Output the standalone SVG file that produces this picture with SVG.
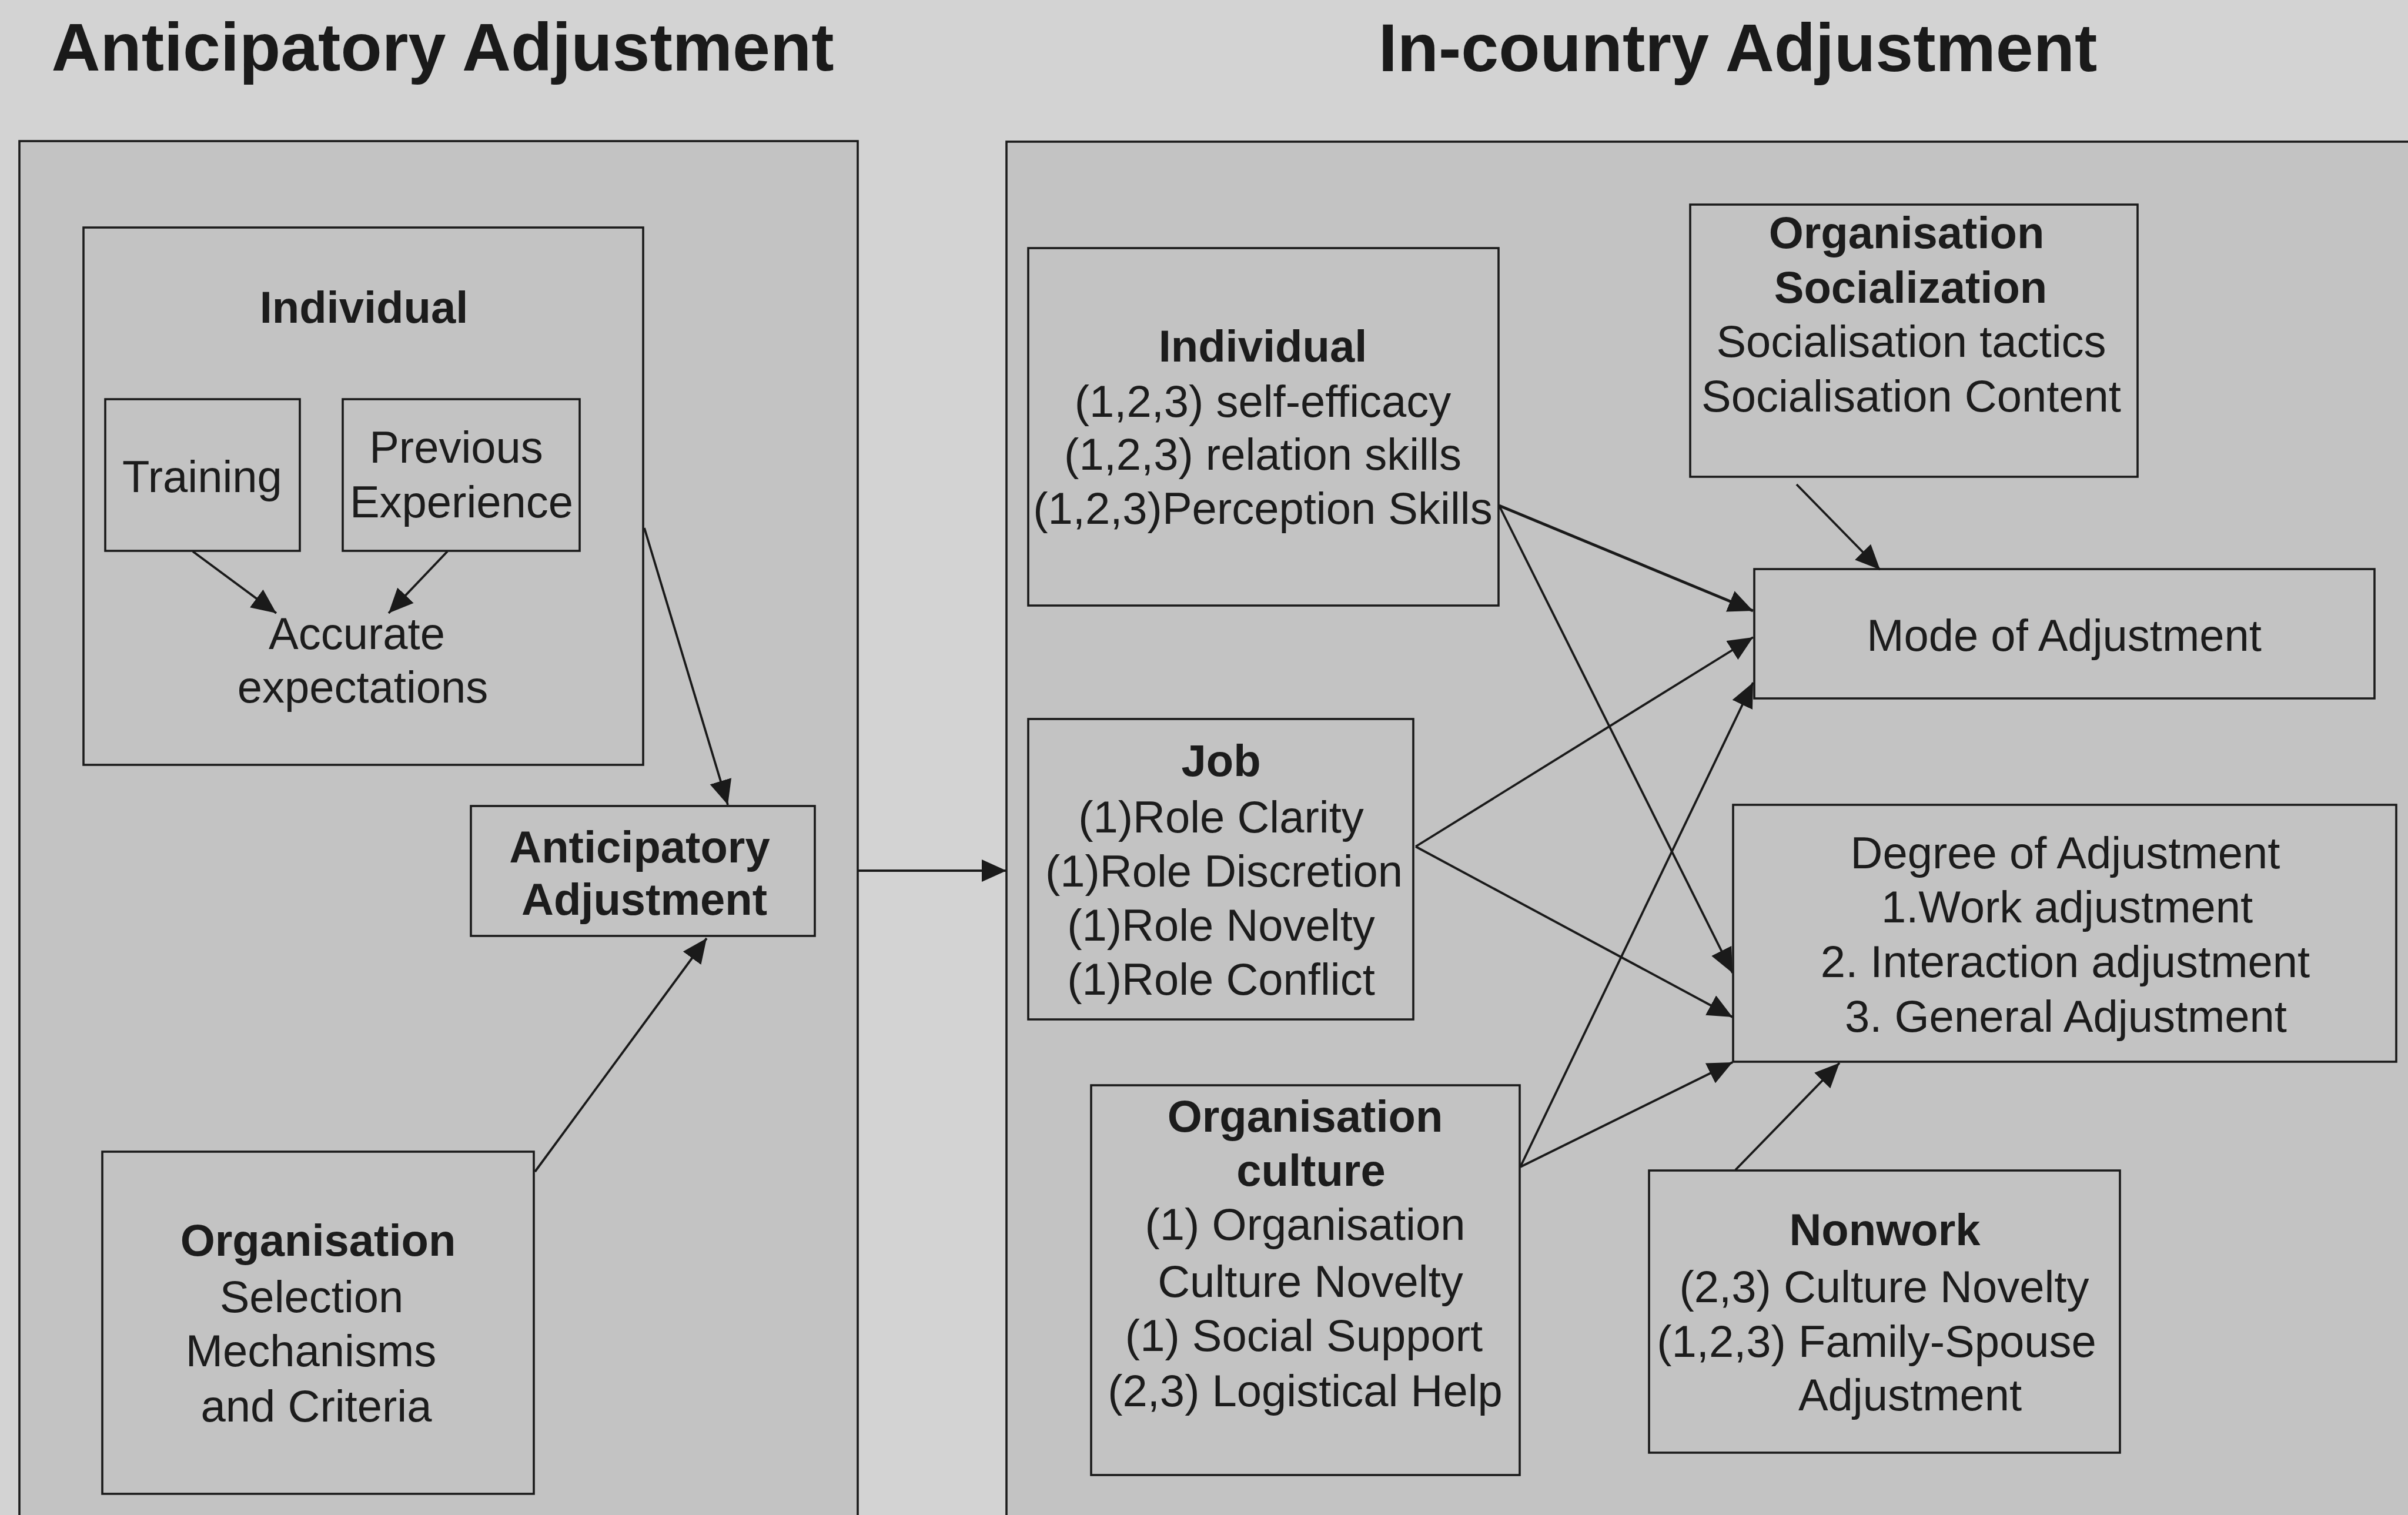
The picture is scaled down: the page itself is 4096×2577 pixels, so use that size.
<svg xmlns="http://www.w3.org/2000/svg" width="4096" height="2577" viewBox="0 0 4096 2577">
  <style>
    .panel { fill: #c3c3c3; stroke: #1a1a1a; stroke-width: 3.6; }
    .box { fill: #c3c3c3; stroke: #1a1a1a; stroke-width: 3.6; }
    .title { font-family: "Liberation Sans", Arial, sans-serif; font-size: 115px; font-weight: bold; fill: #1a1a1a; text-anchor: middle; }
    .t { font-family: "Liberation Sans", Arial, sans-serif; font-size: 76px; fill: #1c1c1c; text-anchor: middle; }
    .b { font-weight: bold; }
    .conn line { stroke: #1a1a1a; stroke-width: 3.8; fill: none; marker-end: url(#head); }
  </style>
  <defs>
    <marker id="head" markerUnits="userSpaceOnUse" markerWidth="44" markerHeight="40" refX="42" refY="19" orient="auto">
      <path d="M0,0 L42,19 L0,38 z" fill="#1a1a1a"/>
    </marker>
  </defs>

  <!-- page background -->
  <rect x="0" y="0" width="4096" height="2577" fill="#d3d3d3"/>

  <!-- section headings -->
  <text class="title" x="753" y="120">Anticipatory Adjustment</text>
  <text class="title" x="2956" y="121">In-country Adjustment</text>

  <!-- stage panels -->
  <g id="panel-anticipatory">
    <rect class="panel" x="33" y="240" width="1426" height="2400"/>
  </g>
  <g id="panel-incountry">
    <rect class="panel" x="1712" y="241" width="2420" height="2400"/>
  </g>

  <!-- anticipatory stage -->
  <g id="ant-individual">
    <rect class="box" x="142" y="387" width="952" height="914"/>
    <text class="t b" x="619" y="549">Individual</text>
  </g>
  <g id="ant-training">
    <rect class="box" x="179" y="679" width="331" height="258"/>
    <text class="t" x="344" y="837">Training</text>
  </g>
  <g id="ant-experience">
    <rect class="box" x="583" y="679" width="403" height="258"/>
    <text class="t" x="776" y="787">Previous</text>
    <text class="t" x="785" y="880">Experience</text>
  </g>
  <g id="ant-expectations">
    <text class="t" x="607" y="1104">Accurate</text>
    <text class="t" x="617" y="1195">expectations</text>
  </g>
  <g id="ant-adjustment">
    <rect class="box" x="801" y="1371" width="585" height="221"/>
    <text class="t b" x="1088" y="1467">Anticipatory</text>
    <text class="t b" x="1096" y="1556">Adjustment</text>
  </g>
  <g id="ant-organisation">
    <rect class="box" x="174" y="1959" width="734" height="582"/>
    <text class="t b" x="541" y="2136">Organisation</text>
    <text class="t" x="530" y="2232">Selection</text>
    <text class="t" x="529" y="2324">Mechanisms</text>
    <text class="t" x="538" y="2418">and Criteria</text>
  </g>

  <!-- in-country stage -->
  <g id="ic-individual">
    <rect class="box" x="1749" y="422" width="800" height="608"/>
    <text class="t b" x="2148" y="615">Individual</text>
    <text class="t" x="2148" y="709">(1,2,3) self-efficacy</text>
    <text class="t" x="2148" y="799">(1,2,3) relation skills</text>
    <text class="t" x="2148" y="891">(1,2,3)Perception Skills</text>
  </g>
  <g id="ic-socialization">
    <rect class="box" x="2875" y="348" width="761" height="463"/>
    <text class="t b" x="3243" y="422">Organisation</text>
    <text class="t b" x="3250" y="515">Socialization</text>
    <text class="t" x="3251" y="607">Socialisation tactics</text>
    <text class="t" x="3251" y="700">Socialisation Content</text>
  </g>
  <g id="ic-mode">
    <rect class="box" x="2984" y="968" width="1055" height="220"/>
    <text class="t" x="3511" y="1107">Mode of Adjustment</text>
  </g>
  <g id="ic-job">
    <rect class="box" x="1749" y="1223" width="655" height="511"/>
    <text class="t b" x="2077" y="1320">Job</text>
    <text class="t" x="2077" y="1416">(1)Role Clarity</text>
    <text class="t" x="2082" y="1508">(1)Role Discretion</text>
    <text class="t" x="2077" y="1600">(1)Role Novelty</text>
    <text class="t" x="2077" y="1692">(1)Role Conflict</text>
  </g>
  <g id="ic-degree">
    <rect class="box" x="2948" y="1369" width="1128" height="437"/>
    <text class="t" x="3513" y="1477">Degree of Adjustment</text>
    <text class="t" x="3516" y="1569">1.Work adjustment</text>
    <text class="t" x="3513" y="1662">2. Interaction adjustment</text>
    <text class="t" x="3514" y="1755">3. General Adjustment</text>
  </g>
  <g id="ic-culture">
    <rect class="box" x="1856" y="1846" width="729" height="663"/>
    <text class="t b" x="2220" y="1925">Organisation</text>
    <text class="t b" x="2230" y="2017">culture</text>
    <text class="t" x="2220" y="2109">(1) Organisation</text>
    <text class="t" x="2229" y="2206">Culture Novelty</text>
    <text class="t" x="2218" y="2298">(1) Social Support</text>
    <text class="t" x="2220" y="2392">(2,3) Logistical Help</text>
  </g>
  <g id="ic-nonwork">
    <rect class="box" x="2805" y="1991" width="801" height="480"/>
    <text class="t b" x="3206" y="2118">Nonwork</text>
    <text class="t" x="3205" y="2215">(2,3) Culture Novelty</text>
    <text class="t" x="3192" y="2308">(1,2,3) Family-Spouse</text>
    <text class="t" x="3249" y="2399">Adjustment</text>
  </g>

  <!-- connectors -->
  <g id="connectors" class="conn">
    <line x1="328" y1="938" x2="470" y2="1043"/>
    <line x1="761" y1="938" x2="661" y2="1043"/>
    <line x1="1096" y1="898" x2="1238" y2="1369"/>
    <line x1="910" y1="1993" x2="1202" y2="1596"/>
    <line x1="1459" y1="1481" x2="1712" y2="1481"/>
    <line x1="3056" y1="824" x2="3198" y2="969"/>
    <line x1="2550" y1="860" x2="2982" y2="1039" style="stroke-width:4.8"/>
    <line x1="2550" y1="860" x2="2947" y2="1655"/>
    <line x1="2408" y1="1440" x2="2982" y2="1084"/>
    <line x1="2408" y1="1440" x2="2947" y2="1730"/>
    <line x1="2586" y1="1985" x2="2982" y2="1161"/>
    <line x1="2586" y1="1985" x2="2947" y2="1807"/>
    <line x1="2952" y1="1990" x2="3129" y2="1808"/>
  </g>
</svg>
